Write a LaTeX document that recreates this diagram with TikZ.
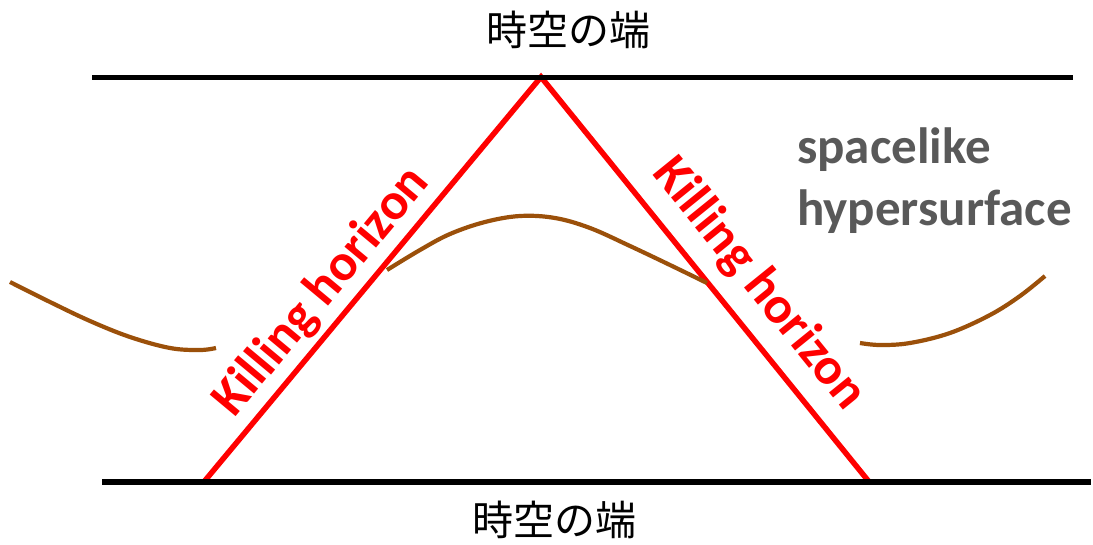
\documentclass[tikz,border=0pt]{standalone}
\usepackage{fontspec}
\setmainfont{Carlito}
\newfontfamily\jpfont{Noto Sans CJK JP}
\definecolor{surfbrown}{RGB}{155,80,10}
\definecolor{labelgray}{RGB}{89,89,89}
\begin{document}
\begin{tikzpicture}[x=1pt,y=-1pt,
  edgeline/.style={line width=5.5pt},
  horizon/.style={red,line width=5.5pt,line join=miter},
  surf/.style={surfbrown,line width=4.2pt},
  jptext/.style={font=\jpfont\fontsize{41}{45}\selectfont,inner sep=0pt},
  horizonlabel/.style={red,font=\bfseries\fontsize{52}{56}\selectfont,inner sep=0pt},
  graylabel/.style={labelgray,font=\bfseries\fontsize{51}{62}\selectfont,inner sep=0pt,align=left}]
\useasboundingbox (0,0) rectangle (1093,544);
\coordinate (apex) at (541,77);
\coordinate (bl) at (203,483);
\coordinate (br) at (870,483);
% horizons
\draw[horizon] (bl) -- (apex) -- (br);
% edges of spacetime
\draw[edgeline] (92,77.5) -- (1073,77.5);
\draw[edgeline] (102,482) -- (1091,482);
% spacelike hypersurface
\draw[surf] plot[smooth,tension=0.6] coordinates {(10,282) (50,302) (90,321) (130,337) (170,348) (200,350) (216,348)};
\draw[surf] plot[smooth,tension=0.6] coordinates {(387,270) (420,250) (450,234) (485,222) (520,216) (555,218) (590,228) (630,246) (670,265) (707,283)};
\draw[surf] plot[smooth,tension=0.6] coordinates {(860,343) (880,345) (910,343) (950,333) (990,315) (1020,296) (1045,276)};
% labels
\node[jptext] (top) at (568,30) {時空の端};
\node[jptext] (bottom) at (554,520) {時空の端};
\node[horizonlabel,rotate=50.2] (lh) at (322,292) {Killing horizon};
\node[horizonlabel,rotate=-51] (rh) at (759,284) {Killing horizon};
\node[graylabel,anchor=north west] (sh) at (797,128) {spacelike\\hypersurface};
\end{tikzpicture}
\end{document}
